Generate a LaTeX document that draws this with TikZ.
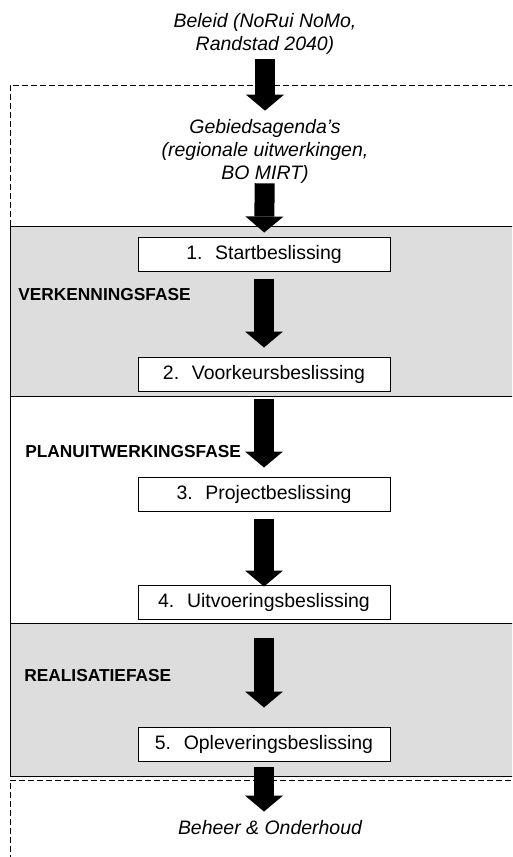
\documentclass[tikz,border=0pt]{standalone}
\usepackage{fontspec}
\setmainfont{Liberation Sans}
\usepackage{tikz}
\usetikzlibrary{arrows.meta}
\definecolor{fasegrijs}{RGB}{221,221,221}
\tikzset{
  besluit/.style={draw=black, line width=0.75pt, fill=white, minimum width=189pt, minimum height=25.5pt, inner sep=0pt, font=\fontsize{14.6}{17.25}\selectfont},
  cursief/.style={inner sep=0pt, align=center, font=\fontsize{14.6}{17.25}\selectfont\itshape},
  fase/.style={anchor=west, inner sep=0pt, font=\fontsize{13}{15}\selectfont\bfseries},
  pijl/.style={line width=15pt, -{Triangle[width=28.5pt, length=12pt, line width=0pt]}},
  stippel/.style={line width=0.75pt, dash pattern=on 4.5pt off 2.25pt}
}
\def\nr#1{#1.\hspace{0.65em}}

\begin{document}
\begin{tikzpicture}[x=0.75pt, y=-0.75pt]
		%%%%% START %%%%%
		\useasboundingbox (0,0) rectangle (512,857);
		\clip (0,0) rectangle (512,857);
		
		% fasen
		\draw[stippel] (10,226) -- (10,85) -- (530,85);
		\draw[line width=0.75pt, fill=fasegrijs] (10,226) rectangle (530,396);
		\draw[line width=0.75pt] (10,396) -- (10,623);
		\draw[line width=0.75pt, fill=fasegrijs] (10,623) rectangle (530,776);
		\draw[stippel] (10,870) -- (10,780) -- (530,780);
		
		\node[fase] (verk) at (18,295) {VERKENNINGSFASE};
		\node[fase] (plan) at (25,452) {PLANUITWERKINGSFASE};
		\node[fase] (real) at (24,676) {REALISATIEFASE};
		
		% teksten en beslissingen
		\node[cursief] (beleid) at (265,34) {Beleid (NoRui NoMo,\\Randstad 2040)};
		\node[cursief] (gebied) at (265,151) {Gebiedsagenda’s\\(regionale uitwerkingen,\\BO MIRT)};
		
		\node[besluit] (b1) at (264,254) {\nr{1}Startbeslissing};
		\node[besluit] (b2) at (264,374) {\nr{2}Voorkeursbeslissing};
		\node[besluit] (b3) at (264,494) {\nr{3}Projectbeslissing};
		\node[besluit] (b4) at (264,602) {\nr{4}Uitvoeringsbeslissing};
		\node[besluit] (b5) at (264,744) {\nr{5}Opleveringsbeslissing};
		
		\node[cursief] (beheer) at (270,828) {Beheer \& Onderhoud};
		
		% pijlen
		\draw[pijl, shorten <=3pt, shorten >=6pt] (beleid) -- (gebied);
		\draw[pijl, shorten <=0pt, shorten >=3pt] (gebied) -- (b1);
		\draw[pijl, shorten <=5.25pt, shorten >=6.75pt] (b1) -- (b2);
		\draw[pijl, shorten <=5.25pt, shorten >=6.75pt] (b2) -- (b3);
		\draw[pijl, shorten <=5.25pt, shorten >=-1.5pt] (b3) -- (b4);
		\draw[pijl, shorten <=13.5pt, shorten >=14.25pt] (b4) -- (b5);
		\draw[pijl, shorten <=3.75pt, shorten >=6.75pt] (b5.south) -- (b5.south |- beheer.north);
		
		%%%%% END %%%%%
\end{tikzpicture}
\end{document}
